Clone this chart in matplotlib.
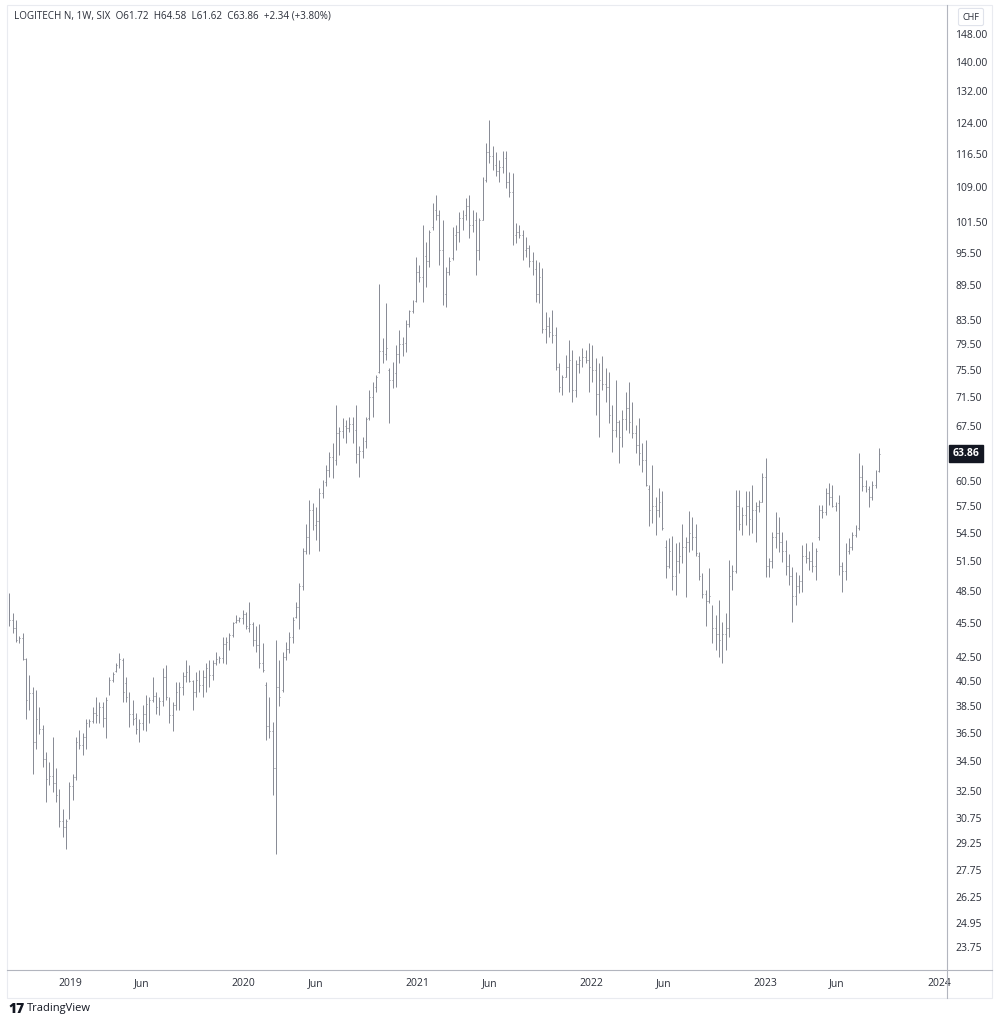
import matplotlib
matplotlib.use("Agg")
import matplotlib.pyplot as plt
import matplotlib.dates as mdates
from matplotlib.lines import Line2D
from matplotlib.patches import Rectangle
from matplotlib.ticker import FixedLocator, FixedFormatter, NullLocator
import pandas as pd
import numpy as np

plt.rcParams["font.family"] = ["Open Sans", "DejaVu Sans"]

# ---------------- data (weekly OHLC, CHF) ----------------
start_date = "2018-08-27"
n_bars = 262

opens = [
    47.8, 45.8, 45.0, 43.9, 44.1, 42.3, 39.0, 39.5, 35.8, 37.5,
    36.8, 34.6, 33.3, 33.5, 33.0, 32.2, 30.6, 30.2, 30.9, 32.8,
    33.4, 35.8, 35.6, 36.2, 37.2, 37.4, 38.0, 37.8, 38.4, 37.6,
    39.6, 40.6, 41.3, 41.8, 42.2, 40.3, 39.2, 37.9, 37.6, 36.8,
    37.2, 37.9, 38.7, 39.0, 39.3, 38.4, 38.9, 40.8, 39.1, 37.8,
    38.6, 39.6, 40.0, 40.9, 41.2, 40.5, 39.6, 40.6, 40.2, 40.8,
    41.6, 41.0, 42.0, 42.3, 42.4, 43.6, 43.8, 44.4, 45.6, 45.8,
    45.9, 46.3, 45.0, 45.4, 44.0, 43.5, 42.0, 40.2, 37.0, 36.6,
    34.0, 40.0, 39.8, 42.5, 43.2, 44.2, 46.0, 47.0, 49.0, 52.5,
    54.0, 57.0, 55.4, 55.8, 59.0, 60.3, 61.8, 63.5, 63.0, 66.5,
    66.8, 67.5, 67.2, 67.8, 67.0, 63.8, 64.2, 65.5, 68.6, 71.5,
    73.0, 75.2, 78.5, 78.0, 75.5, 74.0, 75.0, 78.0, 79.5, 79.8,
    82.8, 85.0, 86.7, 92.0, 91.0, 95.0, 94.0, 100.5, 104.0, 103.0,
    96.0, 88.0, 92.0, 94.5, 99.0, 99.5, 102.5, 103.0, 105.0, 101.0,
    102.0, 96.0, 102.0, 110.5, 117.0, 116.0, 114.0, 112.5, 113.5, 115.5,
    110.0, 108.0, 99.0, 99.5, 99.0, 96.0, 96.5, 94.0, 92.5, 88.0,
    91.0, 82.0, 82.5, 81.5, 81.0, 76.0, 73.0, 74.5, 76.0, 77.0,
    72.5, 76.5, 77.0, 77.5, 77.0, 76.0, 75.5, 72.0, 74.0, 73.5,
    73.0, 69.0, 67.0, 68.0, 66.0, 68.5, 70.0, 68.0, 66.5, 65.0,
    64.0, 63.0, 59.5, 57.0, 57.5, 57.0, 58.0, 53.0, 51.0, 52.5,
    50.0, 51.5, 52.0, 53.0, 53.5, 54.5, 54.0, 52.0, 50.0, 48.2,
    47.5, 47.0, 45.0, 44.5, 44.0, 44.5, 45.0, 50.0, 50.5, 57.5,
    55.5, 56.5, 57.5, 56.0, 57.0, 57.5, 58.0, 61.0, 51.0, 51.5,
    54.0, 54.5, 53.5, 52.5, 51.0, 50.0, 48.0, 49.0, 49.5, 52.0,
    51.8, 51.5, 51.0, 54.0, 57.0, 56.8, 59.0, 58.5, 57.5, 57.8,
    51.0, 50.5, 52.5, 53.0, 54.3, 55.0, 61.0, 59.8, 59.5, 58.5,
    60.0, 61.72,
]

highs = [
    48.3, 46.4, 45.8, 44.3, 44.6, 42.4, 41.0, 40.0, 39.8, 38.4,
    37.1, 35.1, 34.4, 36.2, 34.0, 32.6, 31.3, 30.7, 33.1, 33.6,
    36.2, 36.7, 36.5, 37.5, 37.5, 38.4, 39.2, 38.8, 38.8, 39.2,
    40.8, 41.2, 42.0, 42.8, 42.4, 40.8, 39.6, 39.0, 38.0, 37.5,
    38.6, 39.4, 39.2, 40.8, 39.6, 39.2, 41.6, 41.8, 39.2, 38.8,
    40.4, 40.4, 41.2, 42.2, 41.8, 40.6, 41.2, 41.4, 41.4, 42.0,
    42.2, 42.2, 42.9, 42.6, 44.2, 44.2, 44.6, 45.6, 46.2, 46.0,
    46.7, 46.5, 47.4, 45.6, 45.2, 45.4, 43.7, 40.4, 39.2, 37.3,
    44.0, 42.2, 42.9, 43.8, 44.7, 46.0, 47.4, 49.3, 52.9, 55.5,
    58.2, 57.8, 57.4, 59.6, 60.6, 62.4, 64.1, 65.2, 70.4, 67.4,
    68.6, 68.3, 68.7, 68.7, 70.4, 64.9, 66.0, 68.7, 72.6, 73.7,
    74.7, 89.8, 80.5, 86.4, 75.8, 76.8, 79.4, 81.8, 80.7, 83.5,
    85.2, 86.9, 94.8, 93.3, 101.0, 97.6, 100.0, 105.6, 107.2, 104.1,
    102.0, 92.9, 94.8, 100.6, 101.0, 103.7, 104.1, 106.6, 107.2, 104.1,
    103.7, 102.4, 111.2, 119.0, 124.6, 118.3, 116.9, 115.0, 117.1, 117.1,
    112.3, 112.1, 101.4, 101.0, 100.0, 98.6, 97.0, 95.7, 94.2, 93.8,
    92.7, 84.9, 84.0, 85.2, 82.3, 76.6, 74.7, 77.8, 80.2, 78.6,
    77.1, 77.6, 78.9, 78.6, 79.7, 79.4, 77.4, 76.6, 77.6, 75.8,
    75.2, 70.4, 74.0, 68.3, 69.7, 72.2, 73.7, 70.8, 67.6, 68.6,
    65.3, 65.6, 60.0, 62.4, 58.6, 59.6, 59.2, 53.7, 53.9, 54.2,
    53.4, 53.5, 55.5, 54.0, 56.9, 56.3, 55.5, 52.4, 50.3, 48.6,
    50.8, 47.2, 46.2, 47.6, 45.6, 46.4, 51.6, 51.1, 59.4, 59.4,
    57.4, 59.2, 59.2, 60.0, 58.0, 58.2, 61.4, 63.3, 51.8, 54.6,
    56.8, 56.2, 54.6, 53.7, 52.2, 50.9, 50.4, 50.1, 53.2, 53.4,
    52.5, 53.5, 52.9, 57.6, 57.6, 59.6, 60.2, 60.0, 58.0, 58.8,
    51.4, 53.4, 53.9, 54.6, 55.3, 64.0, 62.4, 60.6, 59.8, 60.4,
    61.8, 64.58,
]

lows = [
    45.2, 44.6, 43.8, 43.7, 42.2, 37.5, 38.2, 33.6, 35.3, 36.4,
    34.1, 31.8, 32.9, 32.4, 31.8, 30.2, 29.6, 28.9, 30.7, 31.9,
    33.2, 35.3, 34.9, 35.3, 36.9, 37.2, 37.2, 37.2, 36.9, 36.1,
    39.4, 40.4, 41.2, 41.6, 38.8, 38.8, 36.9, 37.1, 36.4, 35.8,
    36.7, 36.6, 37.2, 38.8, 37.9, 37.8, 38.5, 39.0, 37.2, 36.6,
    38.2, 38.2, 39.4, 40.4, 40.4, 38.2, 39.2, 39.6, 39.2, 39.6,
    40.0, 40.6, 41.8, 42.0, 42.0, 41.9, 43.1, 44.2, 45.5, 45.6,
    45.4, 44.9, 44.7, 43.4, 42.9, 41.6, 41.2, 36.0, 36.1, 32.2,
    28.6, 38.5, 39.6, 42.2, 42.8, 43.7, 45.9, 44.9, 48.6, 52.2,
    52.2, 54.8, 53.7, 52.5, 58.4, 59.8, 60.9, 60.8, 62.4, 63.7,
    65.9, 65.2, 66.7, 65.2, 62.7, 60.9, 63.3, 64.6, 68.3, 68.7,
    72.2, 75.0, 76.6, 77.1, 67.9, 72.9, 73.0, 76.6, 77.6, 78.3,
    82.3, 84.7, 86.6, 90.1, 86.6, 89.2, 92.9, 100.0, 102.0, 93.3,
    86.1, 85.6, 91.4, 94.2, 96.1, 97.6, 100.0, 102.0, 98.4, 99.6,
    91.4, 94.2, 102.0, 110.0, 114.3, 112.8, 111.4, 110.0, 112.1, 108.7,
    106.8, 97.0, 97.4, 98.4, 94.2, 94.8, 92.9, 91.4, 86.6, 86.4,
    81.3, 79.7, 80.7, 79.7, 75.5, 72.2, 71.9, 74.4, 72.3, 70.8,
    71.6, 75.0, 76.0, 76.6, 72.2, 73.7, 69.0, 66.0, 72.6, 70.8,
    67.9, 64.1, 66.0, 62.7, 64.7, 67.0, 66.6, 65.9, 64.0, 62.4,
    61.6, 59.8, 55.2, 55.6, 54.3, 56.3, 54.8, 49.8, 50.8, 48.6,
    48.1, 50.3, 51.3, 47.9, 52.4, 52.7, 52.0, 49.6, 47.8, 45.2,
    47.3, 43.7, 43.1, 42.5, 42.0, 43.1, 44.2, 48.6, 50.3, 54.8,
    54.3, 55.4, 54.3, 54.5, 53.5, 56.8, 58.0, 49.9, 49.9, 50.8,
    52.9, 52.4, 51.4, 50.1, 49.1, 45.6, 47.2, 48.3, 48.4, 51.3,
    50.6, 50.4, 49.6, 53.7, 56.1, 56.5, 57.6, 57.4, 56.9, 50.1,
    48.4, 49.6, 52.2, 52.7, 54.0, 54.8, 59.2, 59.1, 57.4, 58.2,
    59.6, 61.62,
]

closes = [
    45.8, 45.0, 44.0, 44.1, 42.3, 39.0, 39.5, 35.8, 37.5, 36.8,
    34.6, 33.3, 33.5, 33.0, 32.2, 30.6, 30.2, 30.6, 32.8, 33.4,
    35.8, 35.6, 36.2, 37.2, 37.4, 38.0, 37.8, 38.4, 37.6, 39.0,
    40.6, 41.1, 41.8, 42.3, 39.6, 39.2, 37.9, 37.5, 36.8, 37.2,
    37.9, 38.7, 39.0, 39.3, 38.4, 38.9, 40.8, 39.2, 37.8, 38.6,
    39.6, 40.0, 40.9, 41.2, 40.5, 39.6, 40.6, 40.2, 40.8, 41.6,
    41.0, 42.0, 42.3, 42.4, 43.6, 43.8, 44.4, 45.5, 45.8, 45.9,
    46.3, 45.2, 45.4, 44.0, 43.5, 42.0, 41.4, 37.0, 36.6, 34.0,
    40.0, 39.2, 42.5, 43.2, 44.2, 45.8, 47.0, 49.0, 52.5, 54.0,
    57.0, 55.4, 55.8, 59.0, 60.3, 61.8, 63.5, 63.0, 66.5, 66.8,
    67.5, 67.2, 67.8, 67.0, 63.8, 64.2, 65.5, 68.4, 71.5, 73.0,
    74.5, 78.5, 78.0, 79.0, 74.0, 75.0, 78.0, 79.5, 79.8, 82.8,
    85.0, 86.7, 92.0, 91.0, 95.0, 94.0, 99.5, 104.0, 103.0, 96.0,
    88.0, 92.0, 94.0, 99.0, 99.5, 102.5, 103.0, 105.0, 101.0, 102.0,
    96.0, 102.0, 110.5, 117.0, 116.0, 114.0, 112.5, 113.5, 115.5, 110.0,
    108.0, 99.0, 99.5, 99.0, 96.0, 96.5, 94.0, 92.5, 88.0, 91.0,
    82.0, 82.5, 81.5, 81.0, 76.0, 73.0, 74.5, 76.0, 77.0, 72.5,
    76.5, 77.0, 77.5, 77.0, 76.0, 75.5, 72.0, 74.0, 73.5, 73.0,
    69.0, 67.0, 68.0, 66.0, 68.5, 70.0, 68.0, 66.5, 65.0, 64.0,
    63.0, 60.0, 57.0, 57.5, 57.0, 58.0, 55.0, 51.0, 52.5, 50.0,
    51.5, 52.0, 53.0, 53.5, 54.5, 54.0, 52.3, 50.0, 48.2, 47.5,
    48.0, 45.0, 44.5, 44.0, 44.5, 45.0, 50.0, 50.5, 57.5, 55.5,
    56.5, 57.5, 56.0, 57.0, 57.5, 58.0, 61.0, 51.0, 51.5, 54.0,
    54.5, 53.5, 52.5, 51.0, 50.0, 48.0, 49.0, 49.5, 52.0, 51.8,
    51.5, 51.0, 52.5, 57.0, 56.8, 59.0, 58.5, 57.5, 57.8, 51.0,
    50.5, 52.5, 53.0, 54.3, 55.0, 61.0, 59.8, 59.5, 58.5, 60.0,
    61.52, 63.86,
]

price_ticks = [148.00, 140.00, 132.00, 124.00, 116.50, 109.00, 101.50, 95.50,
               89.50, 83.50, 79.50, 75.50, 71.50, 67.50, 60.50, 57.50, 54.50,
               51.50, 48.50, 45.50, 42.50, 40.50, 38.50, 36.50, 34.50, 32.50,
               30.75, 29.25, 27.75, 26.25, 24.95, 23.75]

date_ticks = ["2019-01-01", "2019-06-01", "2020-01-01", "2020-06-01",
              "2021-01-01", "2021-06-01", "2022-01-01", "2022-06-01",
              "2023-01-01", "2023-06-01", "2024-01-01"]
date_tick_labels = ["2019", "Jun", "2020", "Jun", "2021", "Jun", "2022",
                    "Jun", "2023", "Jun", "2024"]

title_text = "LOGITECH N, 1W, SIX  O61.72  H64.58  L61.62  C63.86  +2.34 (+3.80%)"
currency = "CHF"

# ---------------- figure ----------------
W, H = 1000, 1024
fig = plt.figure(figsize=(W / 100, H / 100), dpi=100)
fig.patch.set_facecolor("white")


def fx(px):
    return px / W


def fy(py):
    return 1 - py / H


ax = fig.add_axes([fx(7), fy(970), fx(947) - fx(7), fy(5) - fy(970)])
ax.set_facecolor("white")

dates = pd.date_range(start_date, periods=n_bars, freq="7D")
x = mdates.date2num(dates)
o = np.array(opens)
h = np.array(highs)
l = np.array(lows)
c = np.array(closes)

bar_color = "#868993"
tick_len = 1.8  # days
ax.vlines(x, l, h, color=bar_color, lw=0.7)
ax.hlines(o, x - tick_len, x, color=bar_color, lw=0.7)
ax.hlines(c, x, x + tick_len, color=bar_color, lw=0.7)

ax.set_yscale("log")
ax.set_ylim(22.69, 156.95)
x0 = mdates.date2num(pd.Timestamp(start_date))
ax.set_xlim(x0 - 5.25, x0 + 1970)

# y axis on right
ax.yaxis.tick_right()
ax.yaxis.set_major_locator(FixedLocator(price_ticks))
ax.yaxis.set_major_formatter(FixedFormatter([f"{v:.2f}" for v in price_ticks]))
ax.yaxis.set_minor_locator(NullLocator())
ax.tick_params(axis="y", length=0, pad=6, labelsize=7.5, labelcolor="#2a2e39")

# x axis
xt = mdates.date2num(pd.to_datetime(date_ticks))
ax.xaxis.set_major_locator(FixedLocator(xt))
ax.xaxis.set_major_formatter(FixedFormatter(date_tick_labels))
ax.xaxis.set_minor_locator(NullLocator())
ax.tick_params(axis="x", length=0, pad=6, labelsize=7.5, labelcolor="#2a2e39")

for s in ax.spines.values():
    s.set_visible(False)

# frame / separators
frame_col = "#e9ebf0"
axis_col = "#b2b5be"
fig.add_artist(Rectangle((fx(7), fy(998)), fx(992) - fx(7), fy(5) - fy(998),
                         transform=fig.transFigure, fill=False,
                         edgecolor=frame_col, lw=0.8))
fig.add_artist(Line2D([fx(947), fx(947)], [fy(5), fy(998)],
                      transform=fig.transFigure, color=axis_col, lw=0.8))
fig.add_artist(Line2D([fx(7), fx(992)], [fy(970), fy(970)],
                      transform=fig.transFigure, color=axis_col, lw=0.8))

# current price label
ax.annotate(f"{closes[-1]:.2f}", xy=(1.0, closes[-1]),
            xycoords=("axes fraction", "data"),
            xytext=(4, 0), textcoords="offset points",
            ha="left", va="center", fontsize=7.5, fontweight="bold",
            color="white", annotation_clip=False,
            bbox=dict(boxstyle="square,pad=0.3",
                      fc="#131722", ec="#131722"))

# currency box
fig.text(fx(971), fy(17), currency, ha="center", va="center", fontsize=6.5,
         color="#2a2e39",
         bbox=dict(boxstyle="round,pad=0.45,rounding_size=0.2", fc="white",
                   ec="#e0e3eb", lw=0.8))

# legend title
fig.text(fx(14), fy(16), title_text, ha="left", va="center", fontsize=7.1,
         color="#2a2e39")

# TradingView footer
fig.text(fx(8), fy(1009), "17", ha="left", va="center", fontsize=10,
         fontweight="heavy", color="#131722")
fig.text(fx(27), fy(1009), "TradingView", ha="left", va="center",
         fontsize=8, color="#131722")

fig.savefig("out.png", dpi=100, facecolor="white")
